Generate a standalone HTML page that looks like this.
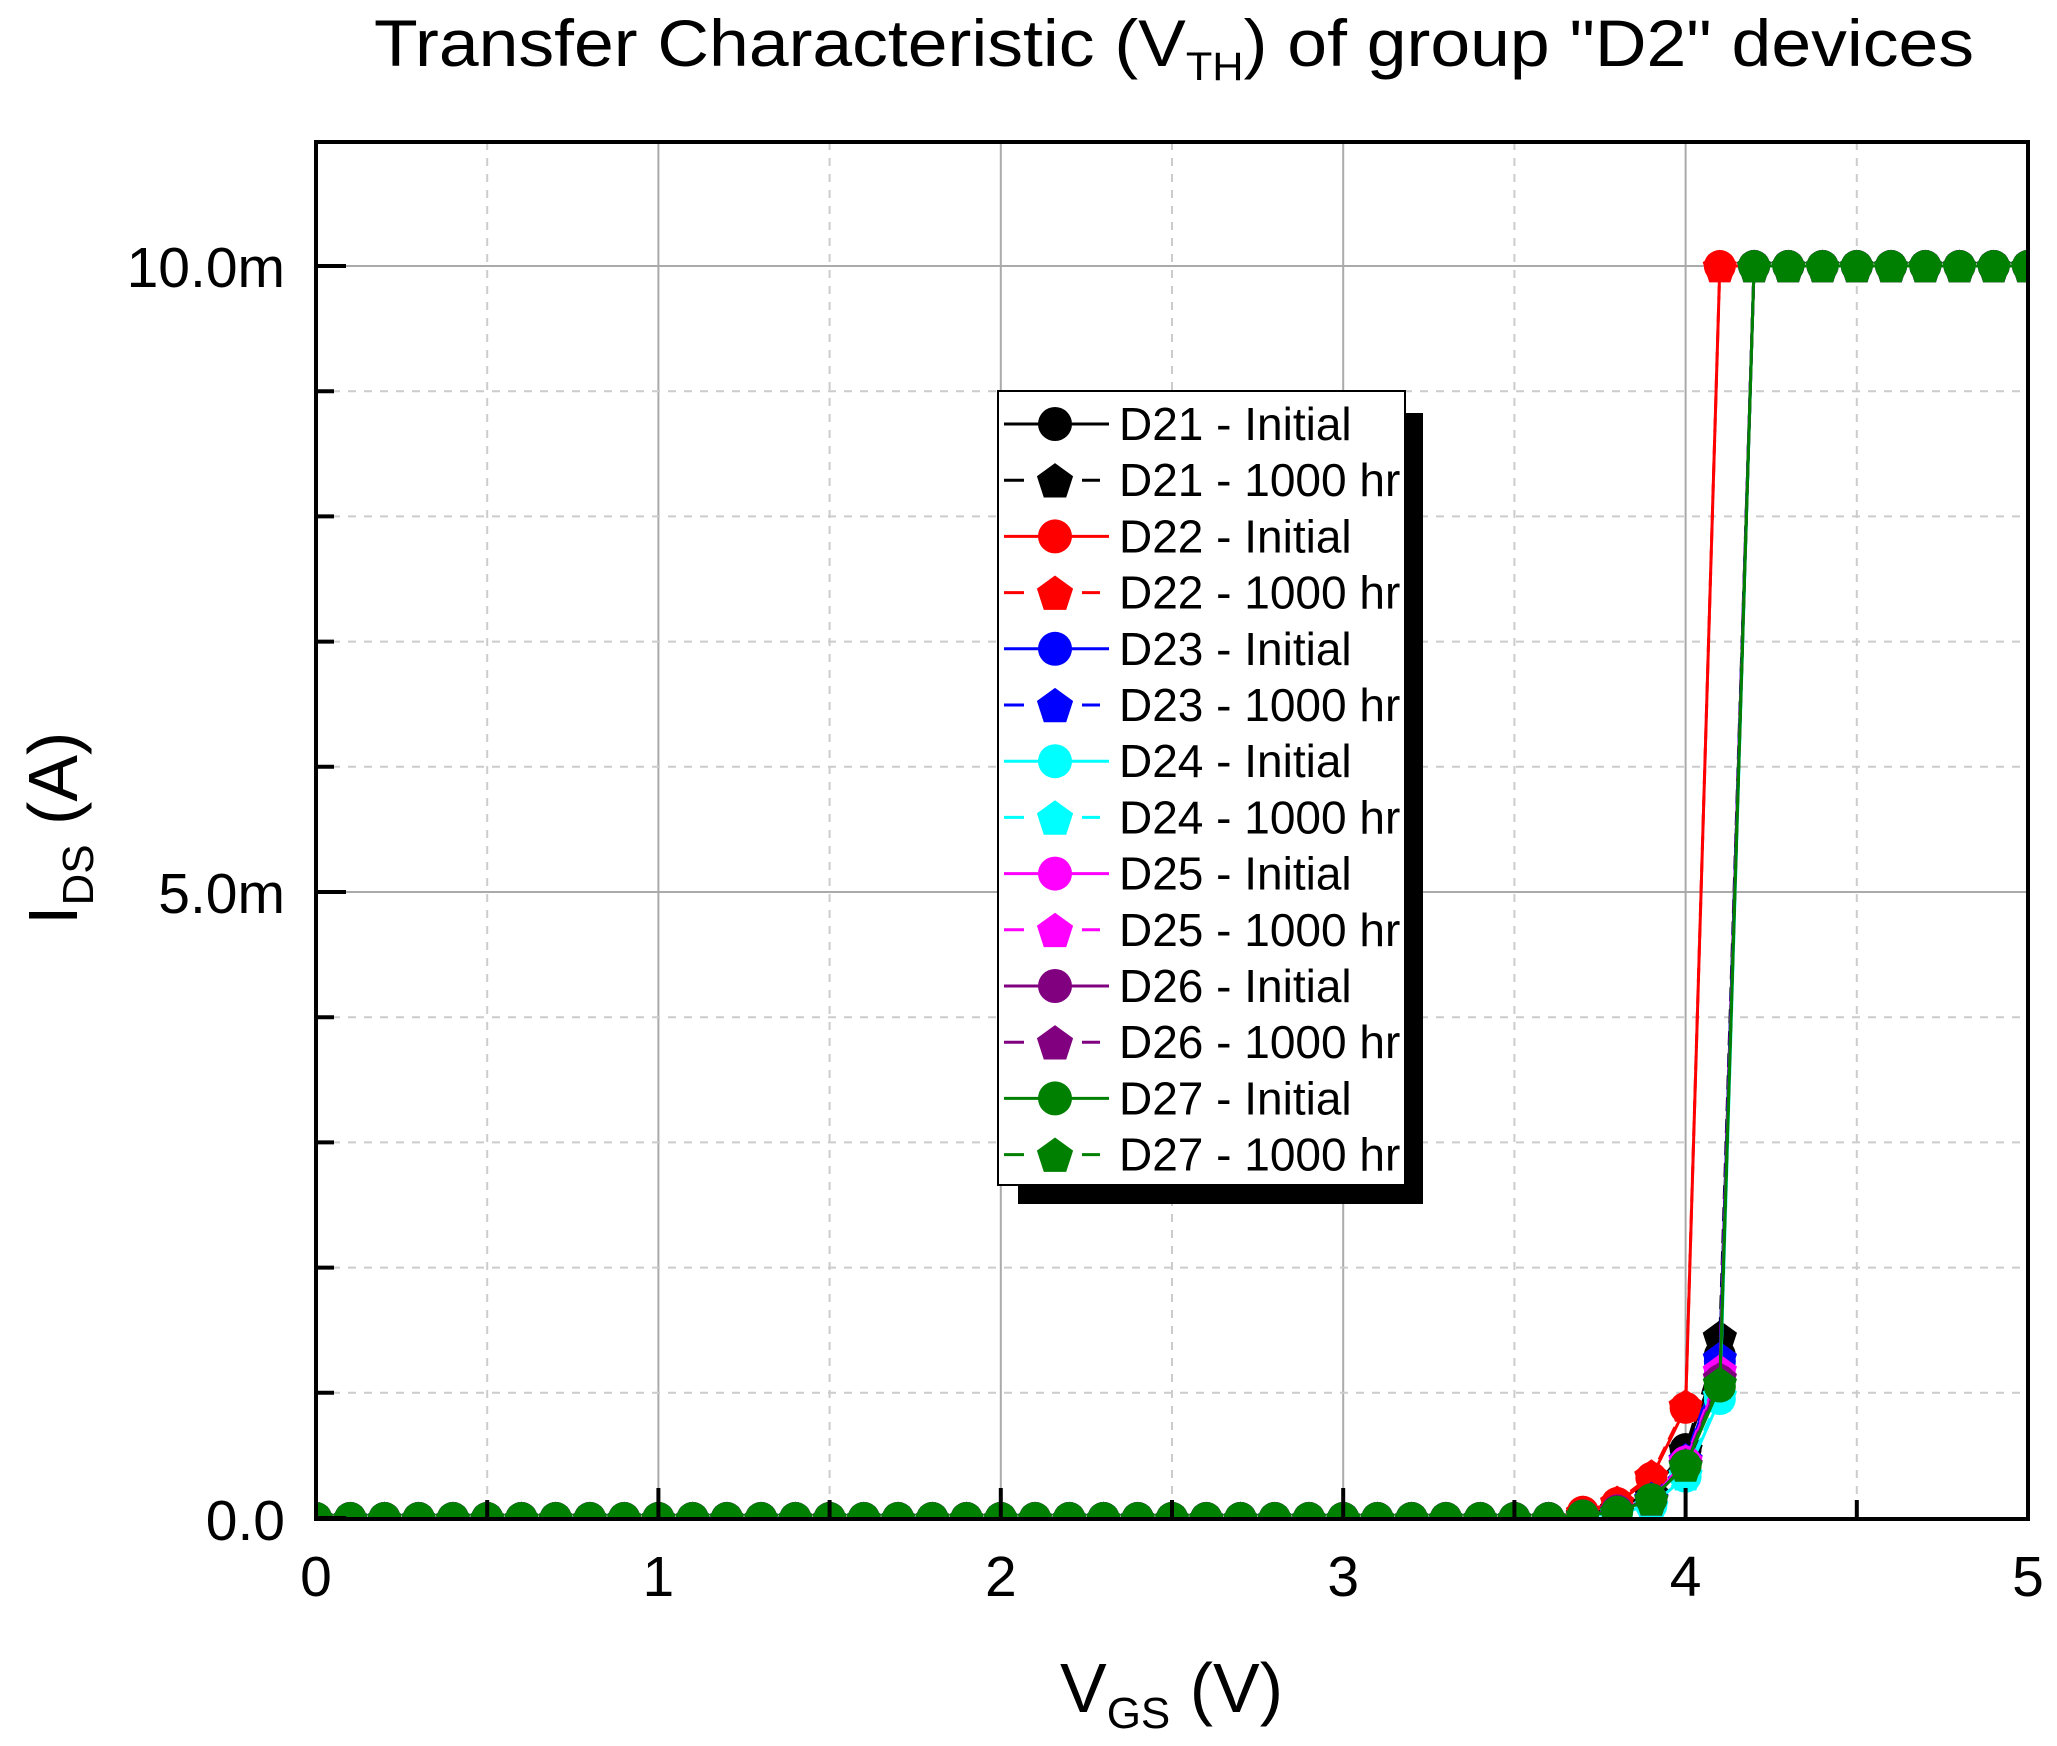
<!DOCTYPE html>
<html><head><meta charset="utf-8"><style>html,body{margin:0;padding:0;background:#fff}svg{display:block}</style></head>
<body>
<svg id="s" width="2057" height="1746" viewBox="0 0 2057 1746" xmlns="http://www.w3.org/2000/svg" font-family="Liberation Sans, sans-serif">
<defs><clipPath id="c"><rect x="316" y="142" width="1712" height="1377"/></clipPath></defs>
<text x="374" y="66" font-size="66" textLength="1600" lengthAdjust="spacingAndGlyphs">Transfer Characteristic (V<tspan font-size="40" dy="14">TH</tspan><tspan dy="-14">) of group "D2" devices</tspan></text>
<g id="grid"></g>
<g id="data" clip-path="url(#c)"></g>
<rect x="316" y="142" width="1712" height="1377" fill="none" stroke="#000" stroke-width="4"/>
<g id="ticks"></g>
<text x="285" y="287" font-size="57" text-anchor="end">10.0m</text>
<text x="285" y="913" font-size="57" text-anchor="end">5.0m</text>
<text x="285" y="1540" font-size="57" text-anchor="end">0.0</text>
<g font-size="57" text-anchor="middle" id="xl"></g>
<text x="1060" y="1712" font-size="70">V<tspan font-size="44" dy="16">GS</tspan><tspan dy="-16"> (V)</tspan></text>
<text transform="translate(77,925) rotate(-90)" font-size="70">I<tspan font-size="44" dy="16">DS</tspan><tspan dy="-16"> (A)</tspan></text>
<rect x="1018" y="413" width="405" height="791" fill="#000"/>
<rect x="998" y="391" width="407" height="794" fill="#fff" stroke="#000" stroke-width="2"/>
<g id="leg" font-size="46"></g>
</svg>
<script>
var NS="http://www.w3.org/2000/svg";
function el(p,t,a,txt){var e=document.createElementNS(NS,t);for(var k in a)e.setAttribute(k,a[k]);if(txt)e.textContent=txt;p.appendChild(e);return e;}
var X=function(v){return 316+v*342.4},Y=function(m){return 1518-m*125.2};
var g=document.getElementById('grid'),tk=document.getElementById('ticks'),xl=document.getElementById('xl');
for(var i=1;i<10;i++){var x=X(i*0.5);el(g,'line',{x1:x,x2:x,y1:142,y2:1518,stroke:i%2?'#ccc':'#aaa','stroke-width':2,'stroke-dasharray':i%2?'8,8':''});}
for(var j=1;j<11;j++){var y=Y(j);el(g,'line',{x1:316,x2:2028,y1:y,y2:y,stroke:j%5?'#ccc':'#aaa','stroke-width':2,'stroke-dasharray':j%5?'8,8':''});}
for(var i=0;i<=10;i++){var x=X(i*0.5);el(tk,'line',{x1:x,x2:x,y1:1518,y2:i%2?1500:1488,stroke:'#000','stroke-width':4});}
for(var j=0;j<=10;j++){var y=Y(j);el(tk,'line',{x1:316,x2:j%5?334:346,y1:y,y2:y,stroke:'#000','stroke-width':4});}
for(var i=0;i<=5;i++)el(xl,'text',{x:X(i),y:1596},String(i));
function pent(cx,cy,r){var p=[];for(var k=0;k<5;k++){var a=-Math.PI/2+k*2*Math.PI/5;p.push((cx+r*Math.cos(a)).toFixed(1)+','+(cy+r*Math.sin(a)+r*0.1).toFixed(1));}return p.join(' ');}
var cols=['#000','#f00','#00f','#0ff','#f0f','#800080','#008000'];
var tails=[[[.03,.08,.2,.55,1.3],[.03,.08,.2,.55,1.45]],[[.05,.12,.32,.88,10],[.05,.13,.34,.9,10]],[[.02,.06,.15,.45,1.25],[.02,.06,.16,.47,1.28]],[[.01,.04,.1,.33,.95],[.01,.04,.1,.35,.98]],[[.02,.06,.15,.45,1.15],[.02,.06,.15,.46,1.18]],[[.02,.06,.15,.42,1.1],[.02,.06,.15,.43,1.12]],[[.02,.05,.15,.42,1.05],[.02,.05,.15,.42,1.08]]];
var d=document.getElementById('data');
cols.forEach(function(c,si){for(var t=0;t<2;t++){var pts=[];for(var i=0;i<=50;i++){var v=i/10,m;if(i<37)m=0;else if(i<=41)m=tails[si][t][i-37];else m=10;pts.push([X(v),Y(m)]);}
el(d,'polyline',{points:pts.map(function(p){return p.join(',')}).join(' '),fill:'none',stroke:c,'stroke-width':3,'stroke-dasharray':t?'14,8':''});
pts.forEach(function(p){if(t)el(d,'polygon',{points:pent(p[0],p[1],18),fill:c});else el(d,'circle',{cx:p[0],cy:p[1],r:16,fill:c});});}});
var lg=document.getElementById('leg');var names=['D21','D22','D23','D24','D25','D26','D27'];
for(var r=0;r<14;r++){var y=424+r*56.2,c=cols[r>>1],t=r%2;
if(t){el(lg,'line',{x1:1004,x2:1024,y1:y,y2:y,stroke:c,'stroke-width':3});el(lg,'line',{x1:1082,x2:1100,y1:y,y2:y,stroke:c,'stroke-width':3});el(lg,'polygon',{points:pent(1055,y,19),fill:c});}
else{el(lg,'line',{x1:1004,x2:1109,y1:y,y2:y,stroke:c,'stroke-width':3});el(lg,'circle',{cx:1055,cy:y,r:17,fill:c});}
el(lg,'text',{x:1119,y:y+16},names[r>>1]+(t?' - 1000 hr':' - Initial'));}
</script>
</body></html>
